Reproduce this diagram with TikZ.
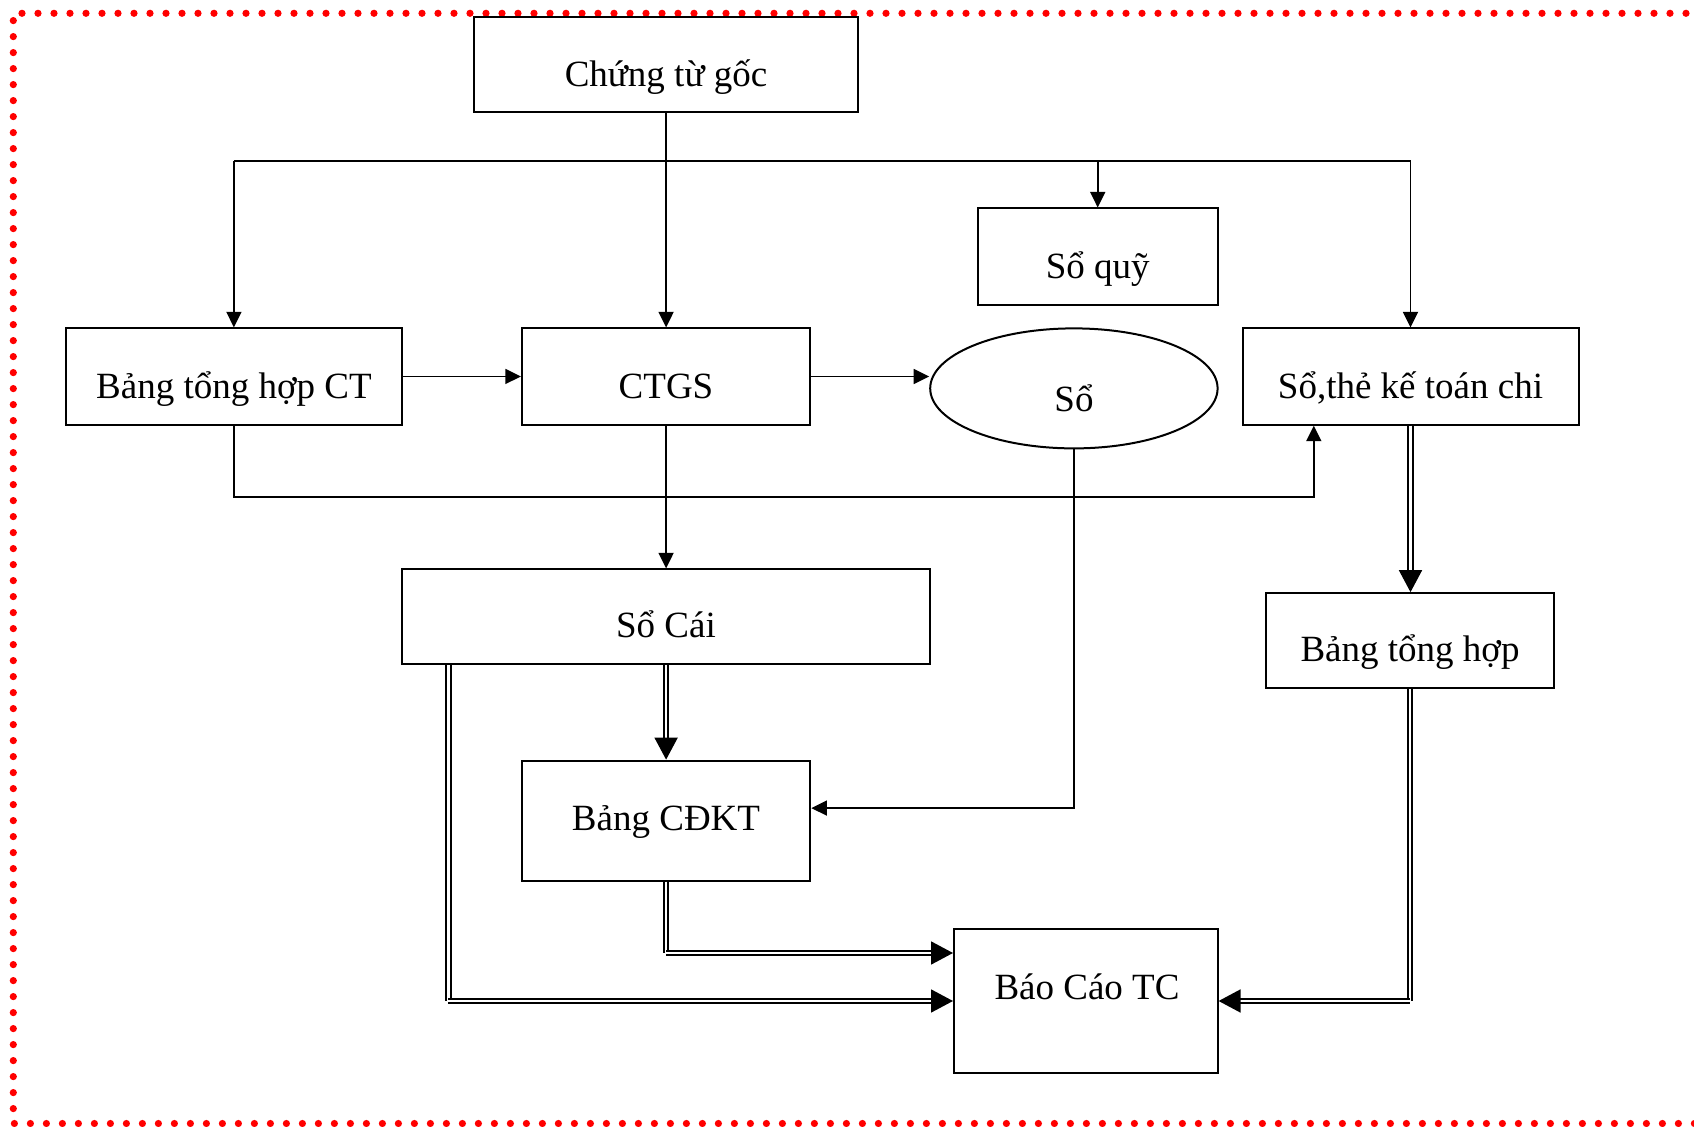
\documentclass[tikz,border=0pt]{standalone}
\usepackage{fontspec}
\setmainfont{Liberation Serif}
\usetikzlibrary{arrows.meta,shapes.geometric}

\tikzset{
  boxnode/.style={draw, line width=1pt, rectangle, inner sep=0pt},
  ovalnode/.style={draw, line width=1pt, ellipse, inner sep=0pt},
  lbl/.style={anchor=base, inner sep=0pt, font=\fontsize{18.5pt}{22pt}\selectfont},
  thin/.style={line width=0.9pt},
  arr/.style={thin, -{Triangle[length=7.8pt,width=7.5pt]}},
  dblline/.style={double, line width=0.9pt, double distance=1.3pt},
  dblarr/.style={dblline, -{Triangle[length=11pt,width=11.5pt]}},
  redborder/.style={red, line width=3.6pt, line cap=round, dash pattern=on 0pt off 8pt}
}

\begin{document}
\begin{tikzpicture}[x=0.5pt, y=-0.5pt]
  \useasboundingbox (0,0) rectangle (1694,1127);

  % dotted frame
  \draw[redborder] (1702,13.3) -- (13.3,13.3) -- (13.3,1123.5) -- (1702,1123.5);

  % boxes
  \node[boxnode, minimum width=191.75pt, minimum height=47.55pt] (chung)  at (666.1,64.9)  {};
  \node[boxnode, minimum width=119.9pt,  minimum height=48.1pt]  (soquy)  at (1097.7,256.6) {};
  \node[boxnode, minimum width=168pt,    minimum height=48.1pt]  (bthct)  at (233.9,376.5) {};
  \node[boxnode, minimum width=144.25pt, minimum height=48.1pt]  (ctgs)   at (666.1,376.5) {};
  \node[ovalnode, minimum width=143.7pt, minimum height=60pt]    (so)     at (1073.9,388.4) {};
  \node[boxnode, minimum width=168pt,    minimum height=48.1pt]  (sothe)  at (1410.5,376.5) {};
  \node[boxnode, minimum width=264.15pt, minimum height=47.5pt]  (socai)  at (666.1,616.9) {};
  \node[boxnode, minimum width=143.7pt,  minimum height=47.55pt] (bth)    at (1409.9,640.7) {};
  \node[boxnode, minimum width=144.25pt, minimum height=59.95pt] (bcdkt)  at (666.1,820.6) {};
  \node[boxnode, minimum width=131.8pt,  minimum height=71.85pt] (baocao) at (1085.8,1001) {};

  % texts
  \node[lbl] (chung-t)  at (666,87)      {Chứng từ gốc};
  \node[lbl] (soquy-t)  at (1097.7,278.7) {Sổ quỹ};
  \node[lbl] (bthct-t)  at (233.9,398.7) {Bảng tổng hợp CT};
  \node[lbl] (ctgs-t)   at (666,398.7)   {CTGS};
  \node[lbl] (so-t)     at (1074,412)    {Sổ};
  \node[lbl] (sothe-t)  at (1410.5,398.7) {Sổ,thẻ kế toán chi};
  \node[lbl] (socai-t)  at (666,637.4)   {Sổ Cái};
  \node[lbl] (bth-t)    at (1410,662)    {Bảng tổng hợp};
  \node[lbl] (bcdkt-t)  at (666,830.8)   {Bảng CĐKT};
  \node[lbl] (baocao-t) at (1087,999.4)  {Báo Cáo TC};

  % helper coordinates
  \coordinate (busy)    at (0,161);
  \coordinate (loopy)   at (0,497);
  \coordinate (sotheIn) at ([xshift=-48.35pt]sothe.south);
  \coordinate (cdktIn)  at ([yshift=6.25pt]bcdkt.east);
  \coordinate (scL)     at ([xshift=23.75pt]socai.south west);
  \coordinate (bcUp)    at ([yshift=24pt]baocao.west);

  % single connectors
  \draw[arr] (chung.south) -- (ctgs.north);
  \draw[thin] (bthct.north |- busy) -- (sothe.north |- busy);
  \draw[arr] (bthct.north |- busy) -- (bthct.north);
  \draw[arr] (soquy.north |- busy) -- (soquy.north);
  \draw[arr] (sothe.north |- busy) -- (sothe.north);
  \draw[arr] (bthct.east) -- (ctgs.west);
  \draw[arr] (ctgs.east) -- (ctgs.east -| so.west);
  \draw[arr] (bthct.south) |- (sotheIn |- loopy) -- (sotheIn);
  \draw[arr] (ctgs.south) -- (socai.north);
  \draw[arr] (so.south) |- (cdktIn);

  % double connectors
  \draw[dblarr] (sothe.south) -- (sothe.south |- bth.north);
  \draw[dblarr] (socai.south) -- (bcdkt.north);
  \draw[dblline] (scL) -- (scL |- baocao.west);
  \draw[dblarr] (scL |- baocao.west) -- (baocao.west);
  \draw[dblline] (bcdkt.south) -- (bcdkt.south |- bcUp);
  \draw[dblarr] (bcdkt.south |- bcUp) -- (bcUp);
  \draw[dblline] (bth.south) -- (bth.south |- baocao.east);
  \draw[dblarr] (bth.south |- baocao.east) -- (baocao.east);
\end{tikzpicture}
\end{document}
